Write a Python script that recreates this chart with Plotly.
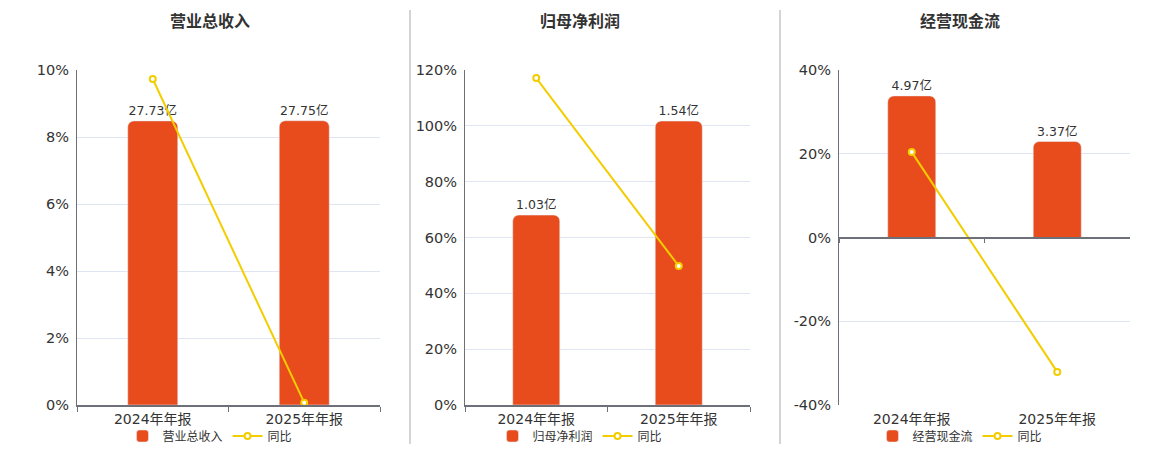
import plotly.graph_objects as go

periods = ["2024年年报", "2025年年报"]

titles = ["营业总收入", "归母净利润", "经营现金流"]

revenue = [27.73, 27.75]
revenue_yoy = [9.73, 0.07]

net_profit = [1.03, 1.54]
net_profit_yoy = [117.1, 49.8]

cash_flow = [4.97, 3.37]
cash_flow_yoy = [20.4, -32.1]

pct_ticks_1 = [0, 2, 4, 6, 8, 10]
pct_ticks_2 = [0, 20, 40, 60, 80, 100, 120]
pct_ticks_3 = [-40, -20, 0, 20, 40]

BAR = "#E84C1D"
LINE = "#F2CD00"
AXIS = "#6E7079"
GRID = "#E0E6F1"
TXT = "#333333"
CLEAR = "rgba(0,0,0,0)"
FONT = "DejaVu Sans, Noto Sans CJK SC, sans-serif"

W, H = 1160, 450
OFF = 8  # page body margin


# window pixel -> paper fraction
def fx(px):
    return (px - OFF) / W


def fy(py):
    return 1 - (py - OFF) / H


panels = [
    (titles[0], revenue, revenue_yoy, pct_ticks_1, [0, 32.7]),
    (titles[1], net_profit, net_profit_yoy, pct_ticks_2, [0, 1.817]),
    (titles[2], cash_flow, cash_flow_yoy, pct_ticks_3, [-5.88, 5.88]),
]

x_domains = [[fx(77), fx(380)], [fx(465), fx(750)], [fx(839), fx(1130)]]
y_domain = [fy(405), fy(70)]
title_x = [fx(210), fx(580), fx(960)]

fig = go.Figure()
layout = {}

for i, (name, vals, yoy, ticks, bar_range) in enumerate(panels):
    xa = "x" if i == 0 else f"x{i + 1}"
    yb = "y" if i == 0 else f"y{2 * i + 1}"
    yp = f"y{2 * i + 2}"
    leg = "legend" if i == 0 else f"legend{i + 1}"

    fig.add_trace(go.Bar(
        x=periods, y=vals, name=name, xaxis=xa, yaxis=yb, legend=leg,
        marker=dict(color=BAR, cornerradius=6), width=0.33,
        text=[f"{v:.2f}亿" for v in vals], textposition="outside",
        textfont=dict(size=12.5, color=TXT), cliponaxis=False,
    ))
    fig.add_trace(go.Scatter(
        x=periods, y=yoy, name="同比", xaxis=xa, yaxis=yp, legend=leg,
        mode="lines+markers", line=dict(color=LINE, width=2),
        marker=dict(symbol="circle", size=6, color="white", line=dict(color=LINE, width=2)),
        cliponaxis=False,
    ))

    xkey = "xaxis" if i == 0 else f"xaxis{i + 1}"
    ybkey = "yaxis" if i == 0 else f"yaxis{2 * i + 1}"
    ypkey = f"yaxis{2 * i + 2}"

    bottom_line = i < 2
    layout[xkey] = dict(
        domain=x_domains[i], anchor=yb, type="category", range=[-0.5, 1.5],
        showline=True, linecolor=AXIS if bottom_line else CLEAR, linewidth=1.5,
        ticks="outside", tickson="boundaries", ticklen=5,
        tickcolor=AXIS if bottom_line else CLEAR, tickfont=dict(size=14, color=TXT), showgrid=False,
    )
    layout[ybkey] = dict(domain=y_domain, anchor=xa, range=bar_range, visible=False, showgrid=False, zeroline=False)
    layout[ypkey] = dict(
        domain=y_domain, anchor=xa, overlaying=yb, side="left",
        range=[ticks[0], ticks[-1]], tickvals=ticks,
        ticktext=[f"{t}%" for t in ticks], tickfont=dict(size=14.5, color=TXT),
        showline=True, linecolor=AXIS, linewidth=1, showgrid=True, gridcolor=GRID,
        zeroline=False, ticks="", ticklabelstandoff=4,
    )
    layout[leg] = dict(
        orientation="h", x=title_x[i], xanchor="center", y=fy(436), yanchor="middle",
        font=dict(size=12, color=TXT), bgcolor=CLEAR, itemwidth=30,
    )

# zero axis line for the cash flow panel
fig.add_trace(go.Scatter(x=periods, y=[None, None], xaxis="x4", yaxis="y5",
                         showlegend=False, hoverinfo="skip"))
layout["xaxis4"] = dict(
    overlaying="x3", anchor="free", position=(y_domain[0] + y_domain[1]) / 2,
    type="category", range=[-0.5, 1.5], showline=True, linecolor=AXIS, linewidth=1.5,
    ticks="outside", tickson="boundaries", ticklen=5, tickcolor=AXIS,
    showticklabels=False, showgrid=False,
)

annotations = [
    dict(text=f"<b>{t}</b>", x=title_x[i], y=fy(22), xref="paper", yref="paper",
         showarrow=False, font=dict(size=16, color=TXT), xanchor="center", yanchor="middle")
    for i, t in enumerate(titles)
]

shapes = [
    dict(type="line", xref="paper", yref="paper", x0=fx(xp), x1=fx(xp), y0=fy(444), y1=fy(10),
         line=dict(color="#AAAAAA", width=1))
    for xp in [410, 780]
]

fig.update_layout(
    width=W, height=H, margin=dict(l=0, r=0, t=0, b=0, autoexpand=False),
    paper_bgcolor="white", plot_bgcolor="white",
    font=dict(family=FONT, color=TXT), bargap=0.5,
    annotations=annotations, shapes=shapes, **layout,
)

fig.write_html("out.html")
